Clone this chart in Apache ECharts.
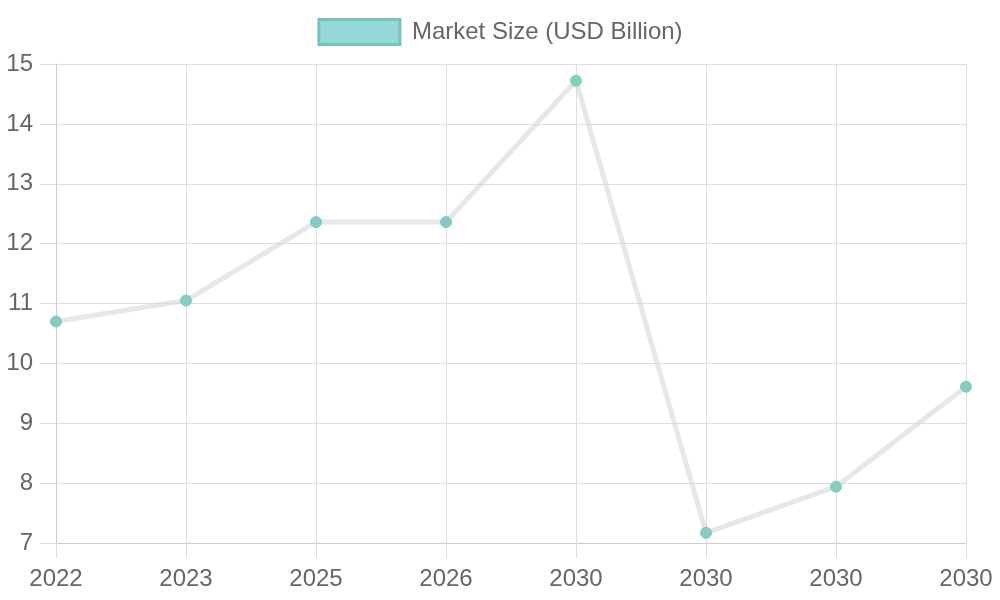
<!DOCTYPE html>
<html>
<head>
<meta charset="utf-8">
<script src="https://cdn.jsdelivr.net/npm/echarts@6/dist/echarts.min.js"></script>
<style>
  html, body { margin: 0; padding: 0; background: #fff; }
  #chart { width: 1000px; height: 600px; }
</style>
</head>
<body>
<div id="chart"></div>
<script>
// data
const years = ['2022', '2023', '2025', '2026', '2030', '2030', '2030', '2030'];
const marketSize = [10.7, 11.05, 12.36, 12.36, 14.72, 7.17, 7.94, 9.61];
const seriesName = 'Market Size (USD Billion)';

const gridColor = '#dedede';
const textColor = '#666';

const chart = echarts.init(document.getElementById('chart'), null, { renderer: 'canvas' });

chart.setOption({
  animation: false,
  textStyle: { fontFamily: 'Liberation Sans, Arial, sans-serif' },
  legend: {
    data: [seriesName],
    top: 13,
    left: 'center',
    icon: 'rect',
    itemWidth: 81,
    itemHeight: 25,
    itemGap: 10,
    itemStyle: {
      color: '#93d9d6',
      borderColor: '#74c3be',
      borderWidth: 3
    },
    textStyle: { color: textColor, fontSize: 24, padding: [0, 0, 0, 7] }
  },
  grid: { left: 56, right: 34, top: 64, bottom: 57, containLabel: false },
  xAxis: {
    type: 'category',
    data: years,
    boundaryGap: false,
    axisLine: { show: true, lineStyle: { color: '#cccccc', width: 1 } },
    axisTick: { show: true, length: 15, lineStyle: { color: gridColor } },
    axisLabel: { color: textColor, fontSize: 24, margin: 24 },
    splitLine: { show: true, lineStyle: { color: gridColor, width: 1 } }
  },
  yAxis: {
    type: 'value',
    min: 7,
    max: 15,
    interval: 1,
    axisLine: { show: true, lineStyle: { color: '#cccccc', width: 1 } },
    axisTick: { show: true, length: 16, lineStyle: { color: gridColor } },
    axisLabel: { color: textColor, fontSize: 24, margin: 23 },
    splitLine: { show: true, lineStyle: { color: gridColor, width: 1 } }
  },
  series: [{
    name: seriesName,
    type: 'line',
    data: marketSize,
    symbol: 'circle',
    symbolSize: 11,
    lineStyle: { color: 'rgba(215,215,215,0.6)', width: 5 },
    itemStyle: { color: '#84cdc5', borderColor: '#7cc9c1', borderWidth: 1 },
    z: 3
  }]
});
</script>
</body>
</html>
